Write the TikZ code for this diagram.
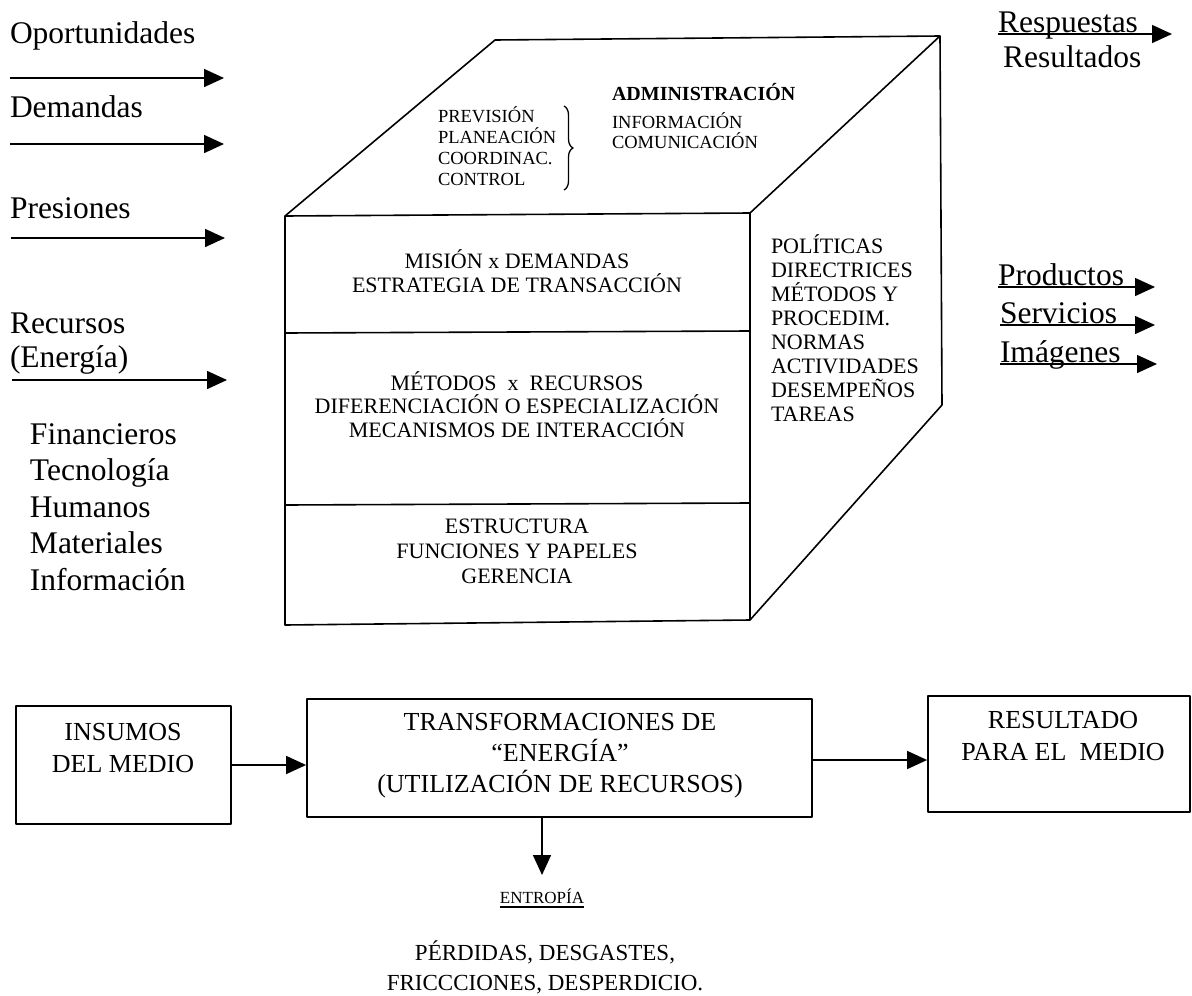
\documentclass[tikz,border=0pt]{standalone}
\usepackage{fontspec}
\setmainfont{Liberation Serif}
\usetikzlibrary{arrows.meta,decorations.pathreplacing,calc}

\begin{document}
\begin{tikzpicture}[x=1pt,y=-1pt,
  line width=1.6pt, line join=round,
  arr/.style={-{Triangle[length=20pt,width=18pt]}},
  txt/.style={inner sep=0pt, outer sep=0pt},
  side/.style={txt, anchor=base west, font=\fontsize{31.5}{36}\selectfont},
  face/.style={txt, anchor=base, font=\fontsize{22}{24}\selectfont},
  rside/.style={txt, anchor=base west, font=\fontsize{22}{24}\selectfont},
  topf/.style={txt, anchor=base west, font=\fontsize{18.5}{21}\selectfont},
  boxtxt/.style={txt, anchor=base, font=\fontsize{26}{30}\selectfont},
  box/.style={draw, line width=1.8pt, inner sep=0pt},
  small/.style={txt, anchor=base, font=\fontsize{23}{27}\selectfont}
]
\useasboundingbox (0,0) rectangle (1192,996);

% ---------- inputs from the environment ----------
\node[side] (op)  at (10,43)  {Oportunidades};
\node[side] (dem) at (10,117) {Demandas};
\node[side] (pre) at (10,218) {Presiones};
\node[side] (rec) at (10,333) {Recursos};
\node[side] (ene) at (10,367) {(Energía)};

\coordinate (in1s) at (10,78);  \coordinate (in1e) at (224,78);
\coordinate (in2s) at (10,144); \coordinate (in2e) at (224,144);
\coordinate (in3s) at (11,238); \coordinate (in3e) at (225,238);
\coordinate (in4s) at (12,380); \coordinate (in4e) at (227,380);
\draw[arr] (in1s) -- (in1e);
\draw[arr] (in2s) -- (in2e);
\draw[arr] (in3s) -- (in3e);
\draw[arr] (in4s) -- (in4e);

\node[side] (fin) at (30,444) {Financieros};
\node[side] (tec) at (30,480) {Tecnología};
\node[side] (hum) at (30,517) {Humanos};
\node[side] (mat) at (30,553) {Materiales};
\node[side] (inf) at (30,590) {Información};

% ---------- outputs ----------
\node[side] (resp) at (998,32)  {Respuestas};
\node[side] (resu) at (1003,67) {Resultados};
\node[side] (prod) at (998,285) {Productos};
\node[side] (serv) at (1000,323) {Servicios};
\node[side] (imag) at (1000,362) {Imágenes};

\coordinate (respE) at (1172,34);
\coordinate (prodE) at (1155,287);
\coordinate (servE) at (1155,325);
\coordinate (imagE) at (1157,364);
\draw[arr, line width=1.4pt] ([yshift=-2pt]resp.base west) -- (respE);
\draw[arr, line width=1.4pt] ([yshift=-2pt]prod.base west) -- (prodE);
\draw[arr, line width=1.4pt] ([yshift=-2pt]serv.base west) -- (servE);
\draw[arr, line width=1.4pt] ([yshift=-2pt]imag.base west) -- (imagE);

% ---------- the organisation as a block ----------
\coordinate (ftl) at (285,216);
\coordinate (ftr) at (750,213);
\coordinate (fbl) at (285,625);
\coordinate (fbr) at (750,620);
\coordinate (btl) at (495,40);
\coordinate (btr) at (940,36);
\coordinate (bbr) at (942,405);

\draw (ftl) -- (ftr) -- (fbr) -- (fbl) -- cycle;
\draw (ftl) -- (btl) -- (btr) -- (ftr);
\draw (btr) -- (bbr) -- (fbr);
\draw (285,333) -- (750,331);
\draw (285,505) -- (750,503);

% top face
\node[topf, font=\fontsize{20}{22}\bfseries] (adm) at (612,100) {ADMINISTRACIÓN};
\node[topf] (infc) at (612,128) {INFORMACIÓN};
\node[topf] (com)  at (612,148) {COMUNICACIÓN};
\node[topf] (prev) at (438,122) {PREVISIÓN};
\node[topf] (plan) at (438,143) {PLANEACIÓN};
\node[topf] (coor) at (438,164) {COORDINAC.};
\node[topf] (ctrl) at (438,185) {CONTROL};
\draw[line width=1.3pt, decorate, decoration={brace, amplitude=9pt}]
  (564,106) -- (564,190);

% front face
\node[face] (mis) at (517,268) {MISIÓN x DEMANDAS};
\node[face] (est) at (517,292) {ESTRATEGIA DE TRANSACCIÓN};
\node[face] (met) at (517,390) {MÉTODOS \ x \ RECURSOS};
\node[face] (dif) at (517,413) {DIFERENCIACIÓN O ESPECIALIZACIÓN};
\node[face] (mec) at (517,437) {MECANISMOS DE INTERACCIÓN};
\node[face] (estr) at (517,533) {ESTRUCTURA};
\node[face] (fun) at (517,558) {FUNCIONES Y PAPELES};
\node[face] (ger) at (517,583) {GERENCIA};

% right face
\node[rside] (pol) at (771,253) {POLÍTICAS};
\node[rside] (dir) at (771,277) {DIRECTRICES};
\node[rside] (mety) at (771,301) {MÉTODOS Y};
\node[rside] (proc) at (771,325) {PROCEDIM.};
\node[rside] (nor) at (771,349) {NORMAS};
\node[rside] (act) at (771,373) {ACTIVIDADES};
\node[rside] (des) at (771,397) {DESEMPEÑOS};
\node[rside] (tar) at (771,421) {TAREAS};

% ---------- process chain ----------
\node[box, minimum width=215pt, minimum height=118pt] (ins) at (123.5,765) {};
\node[box, minimum width=505pt, minimum height=118pt] (tr)  at (559.5,758) {};
\node[box, minimum width=262pt, minimum height=116pt] (res) at (1059,754) {};

\node[boxtxt] (ins1) at (123,740) {INSUMOS};
\node[boxtxt] (ins2) at (123,772) {DEL MEDIO};
\node[boxtxt] (tr1) at (560,730) {TRANSFORMACIONES DE};
\node[boxtxt] (tr2) at (560,761) {“ENERGÍA”};
\node[boxtxt] (tr3) at (560,792) {(UTILIZACIÓN DE RECURSOS)};
\node[boxtxt] (res1) at (1063,728) {RESULTADO};
\node[boxtxt] (res2) at (1063,760) {PARA EL \ MEDIO};

\draw[arr] (ins.east) -- (ins.east -| tr.west);
\draw[arr] ([yshift=-2pt]tr.east) -- ([yshift=-2pt]tr.east -| res.west);

\node[txt, anchor=base, font=\fontsize{17}{20}\selectfont] (ent) at (542,903) {ENTROPÍA};
\draw[line width=1.1pt] ([yshift=-4pt]ent.base west) -- ([yshift=-4pt]ent.base east);
\coordinate (entTop) at (542,875);
\draw[arr] (tr.south -| entTop) -- (entTop);

\node[small] (per1) at (545,960) {PÉRDIDAS, DESGASTES,};
\node[small] (per2) at (545,990) {FRICCCIONES, DESPERDICIO.};
\end{tikzpicture}
\end{document}
